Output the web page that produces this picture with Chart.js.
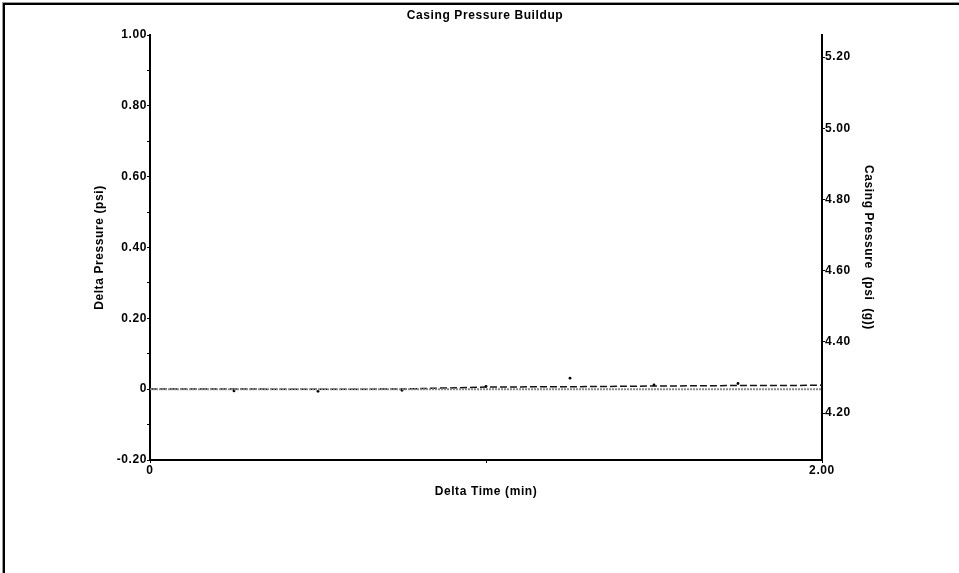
<!DOCTYPE html>
<html lang="en">
<head>
<meta charset="UTF-8">
<title>Casing Pressure Buildup</title>
<style>
    body {
        margin: 0;
        background: #fff;
    }

    .frame {
        position: absolute;
        left: 0;
        top: 0;
        width: 959px;
        height: 573px;
        overflow: hidden;
    }

    .frame-border {
        position: absolute;
        left: 3px;
        top: 3px;
        right: -10px;
        bottom: -10px;
        border-top: 2px solid #000;
        border-left: 2px solid #000;
        box-shadow: -1px -1px 0 #999;
    }

    .chart-box {
        position: absolute;
        left: 0;
        top: 0;
        width: 959px;
        height: 573px;
    }
</style>
<script src="https://cdn.jsdelivr.net/npm/chart.js@4"></script>
</head>
<body>
<div class="frame">
    <div class="frame-border"></div>
    <div class="chart-box"><canvas id="buildupChart"></canvas></div>
</div>
<script>
// Delta time (min) of each reading
var deltaTime = [0, 0.25, 0.5, 0.75, 1.0, 1.25, 1.5, 1.75, 2.0];
// Delta pressure (psi), left axis - dots
var deltaPressure = [0, -0.005, -0.006, -0.003, 0.008, 0.031, 0.012, 0.016, 0.011];
// Casing pressure (psi (g)), right axis - dashed line
var casingPressure = [4.2674, 4.2674, 4.2666, 4.2674, 4.2730, 4.2739, 4.2758, 4.2772, 4.2778];
// zero reference line
var zeroTime = [0, 2];
var zeroValue = [0, 0];

// axis ticks
var xTickValues = [0, 1, 2];
var xTickLabels = ['0', '', '2.00'];
var leftTickValues = [-0.2, -0.1, 0, 0.1, 0.2, 0.3, 0.4, 0.5, 0.6, 0.7, 0.8, 0.9, 1.0];
var leftTickLabels = ['-0.20', '', '0', '', '0.20', '', '0.40', '', '0.60', '', '0.80', '', '1.00'];
var rightTickValues = [4.2, 4.4, 4.6, 4.8, 5.0, 5.2];
var rightTickLabels = ['4.20', '4.40', '4.60', '4.80', '5.00', '5.20'];

function toPoints(xs, ys) {
    return xs.map(function (x, i) { return { x: x, y: ys[i] }; });
}

function setTicks(values) {
    return function (scale) {
        scale.ticks = values.map(function (v) { return { value: v }; });
    };
}

function labelFrom(values, labels) {
    return function (value) {
        var i = values.findIndex(function (v) { return Math.abs(v - value) < 1e-9; });
        return i >= 0 ? labels[i] : '';
    };
}

// the original's text is a bit spaced out
var spacedText = {
    id: 'spacedText',
    beforeLayout: function (chart) { chart.ctx.letterSpacing = '0.6px'; },
    beforeDraw: function (chart) { chart.ctx.letterSpacing = '0.6px'; }
};

var font = { family: 'Liberation Sans, Arial, sans-serif', size: 12, weight: 'bold' };
Chart.defaults.color = '#000';
Chart.defaults.font = font;

var ctx = document.getElementById('buildupChart').getContext('2d');
new Chart(ctx, {
    type: 'scatter',
    data: {
        datasets: [
            {
                label: 'Zero',
                data: toPoints(zeroTime, zeroValue),
                yAxisID: 'yLeft',
                showLine: true,
                borderColor: '#8a8a8a',
                borderWidth: 2,
                borderDash: [2, 1],
                pointRadius: 0
            },
            {
                label: 'Casing Pressure',
                data: toPoints(deltaTime, casingPressure),
                yAxisID: 'yRight',
                showLine: true,
                borderColor: '#111',
                borderWidth: 1.5,
                borderDash: [7, 3],
                pointRadius: 0
            },
            {
                label: 'Delta Pressure',
                data: toPoints(deltaTime, deltaPressure),
                yAxisID: 'yLeft',
                showLine: false,
                backgroundColor: '#000',
                borderColor: '#000',
                pointRadius: 1.4,
                pointBorderWidth: 0
            }
        ]
    },
    plugins: [spacedText],
    options: {
        responsive: true,
        maintainAspectRatio: false,
        animation: false,
        layout: { padding: { top: 0, left: 90, right: 79, bottom: 68 } },
        plugins: {
            legend: { display: false },
            tooltip: { enabled: false },
            title: {
                display: true,
                text: 'Casing Pressure Buildup',
                font: font,
                color: '#000',
                padding: { top: 8, bottom: 12.6 }
            }
        },
        scales: {
            x: {
                type: 'linear',
                position: 'bottom',
                min: 0,
                max: 2,
                afterBuildTicks: setTicks(xTickValues),
                afterFit: function (s) { s.height = 45; },
                ticks: {
                    callback: labelFrom(xTickValues, xTickLabels),
                    padding: 0,
                    maxRotation: 0,
                    autoSkip: false
                },
                grid: { drawOnChartArea: false, tickLength: 3, color: '#000' },
                border: { color: '#000', width: 2 },
                title: {
                    display: true,
                    text: 'Delta Time (min)',
                    font: font,
                    padding: { top: 0, bottom: 5.8 }
                }
            },
            yLeft: {
                type: 'linear',
                position: 'left',
                min: -0.2,
                max: 1.0,
                afterBuildTicks: setTicks(leftTickValues),
                afterFit: function (s) { s.width = 60; },
                ticks: {
                    callback: labelFrom(leftTickValues, leftTickLabels),
                    padding: 0,
                    autoSkip: false
                },
                grid: { drawOnChartArea: false, tickLength: 3, color: '#000' },
                border: { color: '#000', width: 2 },
                title: {
                    display: true,
                    text: 'Delta Pressure (psi)',
                    font: font,
                    padding: { top: 2.8, bottom: 0 }
                }
            },
            yRight: {
                type: 'linear',
                position: 'right',
                min: 4.068,
                max: 5.262,
                afterBuildTicks: setTicks(rightTickValues),
                afterFit: function (s) { s.width = 58; },
                ticks: {
                    callback: labelFrom(rightTickValues, rightTickLabels),
                    padding: 0,
                    autoSkip: false
                },
                grid: { drawOnChartArea: false, tickLength: 3, color: '#000' },
                border: { color: '#000', width: 2 },
                title: {
                    display: true,
                    text: 'Casing Pressure  (psi  (g))',
                    font: font,
                    padding: { top: 4.8, bottom: 0 }
                }
            }
        }
    }
});
</script>
</body>
</html>
